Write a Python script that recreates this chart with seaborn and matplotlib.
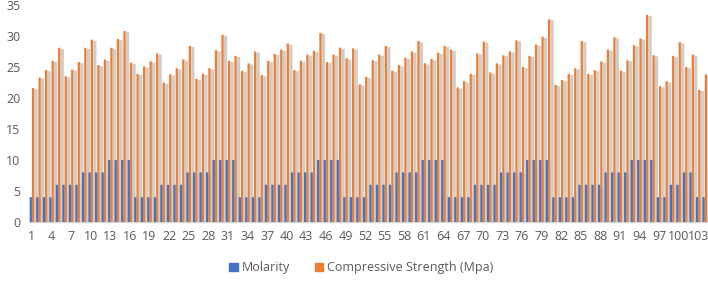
import numpy as np
import pandas as pd
import seaborn as sns
import matplotlib.pyplot as plt
import matplotlib.patheffects as pe

# sample number 1..104
samples = list(range(1, 105))

molarity = [4, 4, 4, 4, 6, 6, 6, 6, 8, 8, 8, 8, 10, 10, 10, 10,
            4, 4, 4, 4, 6, 6, 6, 6, 8, 8, 8, 8, 10, 10, 10, 10,
            4, 4, 4, 4, 6, 6, 6, 6, 8, 8, 8, 8, 10, 10, 10, 10,
            4, 4, 4, 4, 6, 6, 6, 6, 8, 8, 8, 8, 10, 10, 10, 10,
            4, 4, 4, 4, 6, 6, 6, 6, 8, 8, 8, 8, 10, 10, 10, 10,
            4, 4, 4, 4, 6, 6, 6, 6, 8, 8, 8, 8, 10, 10, 10, 10,
            4, 4, 6, 6, 8, 8, 4, 4]

strength = [21.6, 23.3, 24.5, 26.0, 28.1, 23.5, 24.6, 25.8, 28.1, 29.4,
            25.3, 26.2, 28.1, 29.5, 30.8, 25.7, 23.9, 25.1, 25.9, 27.2,
            22.5, 23.8, 24.8, 26.2, 28.4, 23.1, 23.9, 24.8, 27.7, 30.2,
            26.0, 26.8, 24.4, 25.6, 27.5, 23.7, 26.0, 27.1, 27.8, 28.8,
            24.5, 26.0, 27.0, 27.6, 30.5, 25.8, 27.0, 28.1, 26.4, 28.0,
            22.2, 23.4, 26.1, 27.0, 28.4, 24.4, 25.3, 26.5, 27.5, 29.2,
            25.6, 26.3, 27.3, 28.4, 27.8, 21.7, 22.7, 23.9, 27.2, 29.1,
            24.1, 25.6, 26.9, 27.5, 29.3, 25.0, 26.8, 28.6, 29.9, 32.7,
            22.1, 22.9, 23.9, 24.8, 29.2, 23.9, 24.5, 25.9, 27.8, 29.8,
            24.4, 26.1, 28.5, 29.6, 33.4, 26.9, 21.9, 22.7, 26.8, 29.0,
            25.0, 27.0, 21.3, 23.8]

series = ['Molarity', 'Compressive Strength (Mpa)']
colors = ['#4472C4', '#ED7D31']

df = pd.DataFrame({'sample': samples, series[0]: molarity, series[1]: strength})
long = df.melt(id_vars='sample', var_name='series', value_name='value')

sns.set_style('white')
plt.rcParams['font.family'] = ['Open Sans', 'DejaVu Sans']

fig = plt.figure(figsize=(7.08, 2.82), dpi=100)
ax = fig.add_axes([0.0405, 0.2128, 0.9595, 0.7695])

# first pass: only the soft grey shadow of each bar (excel style)
sns.barplot(data=long, x='sample', y='value', hue='series', hue_order=series,
            palette=colors, width=1.0, saturation=1, ax=ax, legend=False)
shadow = [pe.SimplePatchShadow(offset=(1.8, -0.8), shadow_rgbFace=(0.66, 0.64, 0.62), alpha=0.55)]
for cont in ax.containers:
    for bar in cont:
        bar.set_path_effects(shadow)
        bar.set_zorder(1)
        bar.set_snap(False)
        bar.set_linewidth(0)
n_shadow = len(ax.containers)

# second pass: the real bars on top
sns.barplot(data=long, x='sample', y='value', hue='series', hue_order=series,
            palette=colors, width=0.7, saturation=1, ax=ax, legend=False)
for cont in ax.containers[n_shadow:]:
    for bar in cont:
        bar.set_zorder(3)
        bar.set_snap(False)
        bar.set_linewidth(0)

ax.set_xlim(-0.5, 103.5)
ax.set_ylim(0, 35)
ax.set_yticks(range(0, 36, 5))
ax.set_xticks(range(0, 104, 3))
ax.set_xticklabels([str(s) for s in samples[::3]])
ax.set_xlabel('')
ax.set_ylabel('')
ax.tick_params(axis='both', labelsize=9, colors='#595959', length=0, pad=6)
for side in ['top', 'right', 'left']:
    ax.spines[side].set_visible(False)
ax.spines['bottom'].set_color('#d9d9d9')

handles = [plt.Rectangle((0, 0), 1, 1, color=c) for c in colors]
fig.legend(handles, series, loc='center', bbox_to_anchor=(0.51, 0.05), ncol=2,
           frameon=False, fontsize=9, handlelength=0.7, handleheight=0.7,
           handletextpad=0.3, columnspacing=2.0, labelcolor='#595959')

fig.savefig('out.png', dpi=100)
